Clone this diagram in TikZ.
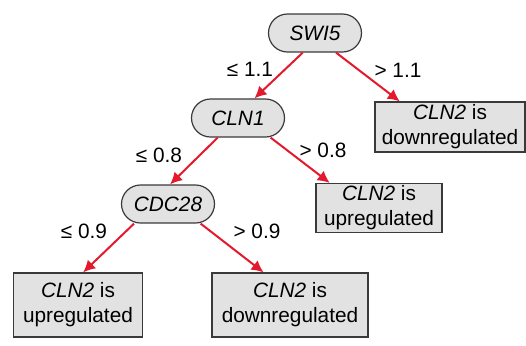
\documentclass[tikz,border=0pt]{standalone}
\usepackage{fontspec}
\setmainfont{Liberation Sans}
\usetikzlibrary{arrows.meta, positioning}
\definecolor{treered}{HTML}{E3192D}
\definecolor{treefill}{HTML}{E2E2E2}
\definecolor{treeline}{HTML}{3A3A3A}
\tikzset{
  align=center,
  font=\fontsize{10.4}{12.6}\selectfont,
  test/.style={draw=treeline, fill=treefill, line width=0.6pt, rounded corners=9.5pt, minimum width=46.5pt, minimum height=19pt, inner sep=0pt},
  leaf/.style={draw=treeline, fill=treefill, line width=0.6pt, inner sep=0pt},
  branch/.style={-{Latex[length=6pt,width=6pt]}, treered, line width=1pt},
  cond/.style={inner sep=0pt}
}

\begin{document}
\begin{tikzpicture}[x=0.5pt, y=0.5pt]
  \useasboundingbox (0,0) rectangle (526,345);

  % decision nodes
  \node[test] (swi5) at (315,312) {\itshape SWI5};
  \node[test] (cln1) at (238,227) {\itshape CLN1};
  \node[test] (cdc28) at (168,141) {\itshape CDC28};

  % outcomes
  \node[leaf, minimum width=75pt, minimum height=25pt] (down1) at (450,218) {\textit{CLN2} is\\downregulated};
  \node[leaf, minimum width=63pt, minimum height=24.5pt] (up1) at (379,137) {\textit{CLN2} is\\upregulated};
  \node[leaf, minimum width=64.5pt, minimum height=32pt] (up2) at (78,40) {\textit{CLN2} is\\upregulated};
  \node[leaf, minimum width=78pt, minimum height=32pt] (down2) at (290,40) {\textit{CLN2} is\\downregulated};

  % branches
  \draw[branch] (swi5.-122) -- (cln1.50);
  \draw[branch] (swi5.-43) -- (down1.153);
  \draw[branch] (cln1.-136) -- (cdc28.84);
  \draw[branch] (cln1.-31) -- (up1.153);
  \draw[branch] (cdc28.-150) -- (up2.81);
  \draw[branch] (cdc28.-31) -- (down2.129);

  % thresholds
  \node[cond] (c11) at (250,276) {≤ 1.1};
  \node[cond] (c12) at (398,275) {> 1.1};
  \node[cond] (c21) at (159,190) {≤ 0.8};
  \node[cond] (c22) at (323,195) {> 0.8};
  \node[cond] (c31) at (84,114) {≤ 0.9};
  \node[cond] (c32) at (257,114) {> 0.9};
\end{tikzpicture}
\end{document}
